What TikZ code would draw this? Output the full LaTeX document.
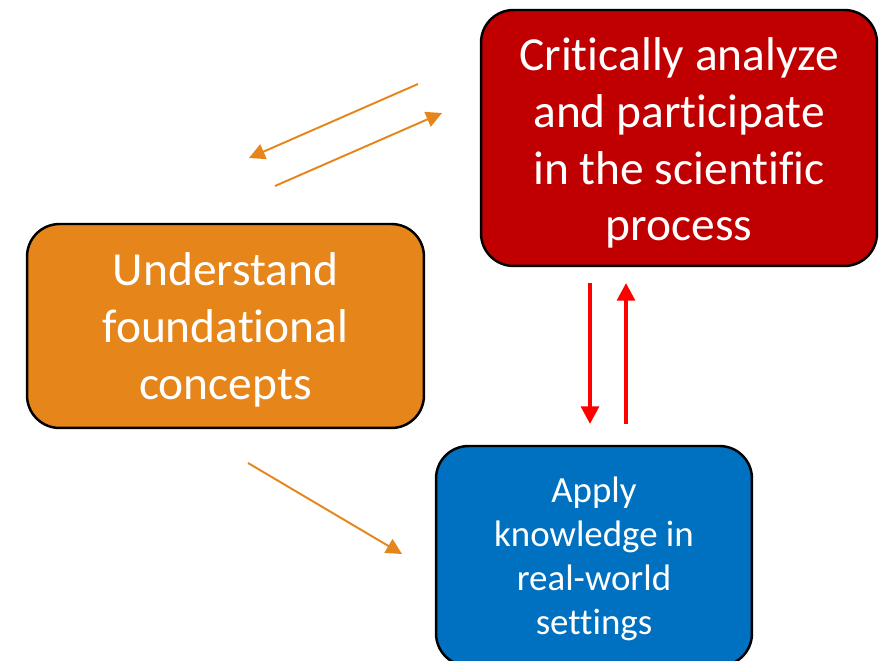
\documentclass[tikz,border=0pt]{standalone}
\usepackage{fontspec}
\setmainfont[Ligatures={NoCommon}]{Carlito}
\usetikzlibrary{arrows.meta}
\definecolor{critred}{HTML}{C00000}
\definecolor{concorange}{HTML}{E5851A}
\definecolor{applyblue}{HTML}{0070C0}
\newcommand{\toppad}[1]{\rule{0pt}{\dimexpr\fontcharht\font`l+#1\relax}}
\tikzset{>={Triangle[length=9pt,width=9pt]}}
\tikzset{
  goal/.style={draw=black, line width=1.4pt, rounded corners=0.65cm, align=center,
    text=white, inner sep=0pt},
  orangelink/.style={->, draw=concorange, line width=1.1pt},
  redlink/.style={-{Triangle[length=10pt,width=10pt]}, draw=red, line width=2.3pt}
}

\begin{document}
\begin{tikzpicture}[x=0.02cm, y=-0.02cm]
		\useasboundingbox (0,0) rectangle (879,661);
		% the three boxes
		\node[goal, fill=critred, minimum width=7.92cm, minimum height=5.12cm,
		  font=\fontsize{27}{32.3}\selectfont] (analyze) at (679,138)
		  {\toppad{0.2cm}Critically analyze\\and participate\\in the scientific\\process};
		\node[goal, fill=concorange, minimum width=7.94cm, minimum height=4.08cm,
		  font=\fontsize{27}{32.3}\selectfont] (concepts) at (225.5,326)
		  {\toppad{0.16cm}Understand\\foundational\\concepts};
		\node[goal, fill=applyblue, minimum width=6.32cm, minimum height=4.4cm,
		  font=\fontsize{21}{25}\selectfont] (apply) at (594,556)
		  {\toppad{0.12cm}Apply\\knowledge in\\real-world\\settings};
		% arrow ends
		\coordinate (back start) at (418,84);
		\coordinate (back end) at (249,158);
		\coordinate (fwd start) at (275,186);
		\coordinate (fwd end) at (442,113);
		\coordinate (down start) at (248,463);
		\coordinate (down end) at (402,554);
		\coordinate (r1 top) at (590,283);
		\coordinate (r1 bot) at (590,424);
		\coordinate (r2 bot) at (626,424);
		\coordinate (r2 top) at (626,283);
		% arrows
		\draw[orangelink] (back start) -- (back end);
		\draw[orangelink] (fwd start) -- (fwd end);
		\draw[orangelink] (down start) -- (down end);
		\draw[redlink] (r1 top) -- (r1 bot);
		\draw[redlink] (r2 bot) -- (r2 top);
	\end{tikzpicture}
\end{document}
